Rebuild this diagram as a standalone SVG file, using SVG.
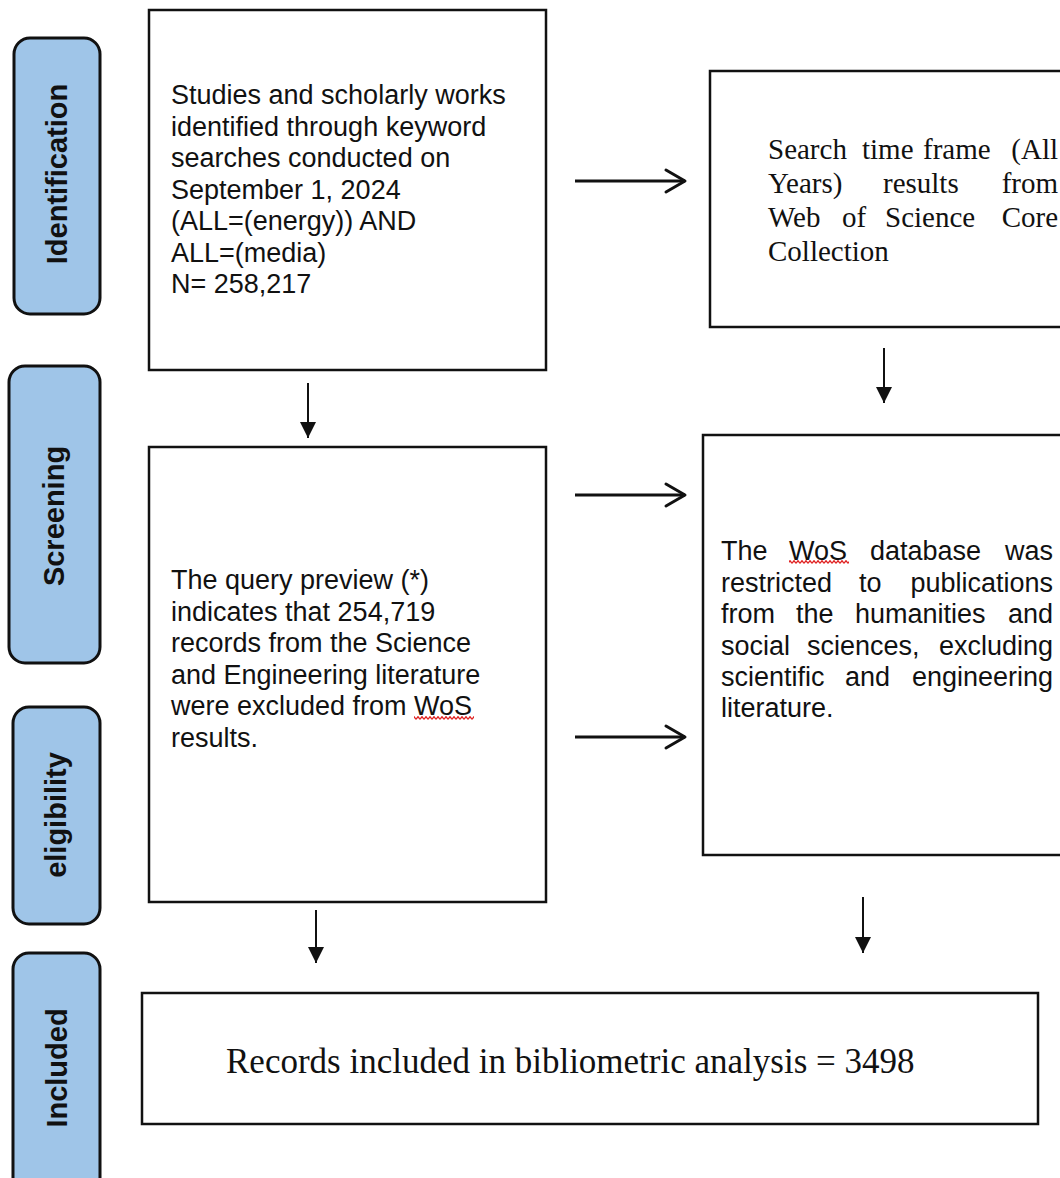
<svg xmlns="http://www.w3.org/2000/svg" width="1060" height="1178" viewBox="0 0 1060 1178">
<defs>
<style>
.phase{fill:#9fc5e8;stroke:#111;stroke-width:3}
.box{fill:#fff;stroke:#111;stroke-width:2.5}
.plabel{font-family:"Liberation Sans",Arial,sans-serif;font-weight:bold;font-size:29px;fill:#111;text-anchor:middle}
.sans{font-family:"Liberation Sans",Arial,sans-serif;font-size:27px;fill:#111}
.serif{font-family:"Liberation Serif","Times New Roman",serif;font-size:29px;fill:#111}
.serifL{font-family:"Liberation Serif","Times New Roman",serif;font-size:35px;fill:#111}
.end{text-anchor:end}
.h{stroke:#111;stroke-width:3;fill:none}
.v{stroke:#111;stroke-width:2;fill:none}
</style>
<marker id="chev" markerUnits="userSpaceOnUse" viewBox="-22 -14 26 28" markerWidth="26" markerHeight="28" refX="0" refY="0" orient="auto">
<path d="M-19,-11 L0,0 L-19,11" fill="none" stroke="#111" stroke-width="3" stroke-linejoin="round" stroke-linecap="round"/>
</marker>
<marker id="tri" markerUnits="userSpaceOnUse" viewBox="-17 -9 18 18" markerWidth="18" markerHeight="18" refX="0" refY="0" orient="auto">
<path d="M-16,-8 L0,0 L-16,8 Z" fill="#111"/>
</marker>
<pattern id="sq" patternUnits="userSpaceOnUse" width="4" height="4">
<path d="M0,3.3 L2,0.7 L4,3.3" fill="none" stroke="#e02020" stroke-width="1.3"/>
</pattern>
</defs>
<rect width="1060" height="1178" fill="#fff"/>

<g id="phase-identification">
<rect class="phase" x="14" y="38" width="86" height="276" rx="16"/>
<text class="plabel" transform="translate(67,174) rotate(-90)">Identification</text>
</g>
<g id="phase-screening">
<rect class="phase" x="9" y="366" width="91" height="297" rx="16"/>
<text class="plabel" transform="translate(64,516) rotate(-90)">Screening</text>
</g>
<g id="phase-eligibility">
<rect class="phase" x="13" y="707" width="87" height="217" rx="16"/>
<text class="plabel" transform="translate(66,815) rotate(-90)">eligibility</text>
</g>
<g id="phase-included">
<rect class="phase" x="13" y="953" width="87" height="250" rx="16"/>
<text class="plabel" transform="translate(67,1068) rotate(-90)">Included</text>
</g>

<g id="box-identified">
<rect class="box" x="149" y="10" width="397" height="360"/>
<text class="sans">
<tspan x="171" y="104">Studies and scholarly works</tspan>
<tspan x="171" y="135.5">identified through keyword</tspan>
<tspan x="171" y="167">searches conducted on</tspan>
<tspan x="171" y="198.5">September 1, 2024</tspan>
<tspan x="171" y="230">(ALL=(energy)) AND</tspan>
<tspan x="171" y="261.5">ALL=(media)</tspan>
<tspan x="171" y="293">N= 258,217</tspan>
</text>
</g>

<g id="box-timeframe">
<rect class="box" x="710" y="71" width="370" height="256"/>
<text class="serif" x="768" y="159">Search</text>
<text class="serif" x="862" y="159">time</text>
<text class="serif" x="923" y="159">frame</text>
<text class="serif end" x="1058" y="159">(All</text>
<text class="serif" x="768" y="193">Years)</text>
<text class="serif" x="883" y="193">results</text>
<text class="serif end" x="1058" y="193">from</text>
<text class="serif" x="768" y="227">Web</text>
<text class="serif" x="842" y="227">of</text>
<text class="serif" x="885" y="227">Science</text>
<text class="serif end" x="1058" y="227">Core</text>
<text class="serif" x="768" y="261">Collection</text>
</g>

<g id="box-query">
<rect class="box" x="149" y="447" width="397" height="455"/>
<text class="sans">
<tspan x="171" y="589">The query preview (*)</tspan>
<tspan x="171" y="620.5">indicates that 254,719</tspan>
<tspan x="171" y="652">records from the Science</tspan>
<tspan x="171" y="683.5">and Engineering literature</tspan>
<tspan x="171" y="715">were excluded from WoS</tspan>
<tspan x="171" y="746.5">results.</tspan>
</text>
<rect x="414" y="716" width="60" height="4" fill="url(#sq)"/>
</g>

<g id="box-restricted">
<rect class="box" x="703" y="435" width="380" height="420"/>
<text class="sans" x="721" y="560">The</text>
<text class="sans" x="789" y="560">WoS</text>
<text class="sans" x="870" y="560">database</text>
<text class="sans end" x="1053" y="560">was</text>
<text class="sans" x="721" y="591.5">restricted</text>
<text class="sans" x="859" y="591.5">to</text>
<text class="sans end" x="1053" y="591.5">publications</text>
<text class="sans" x="721" y="623">from</text>
<text class="sans" x="796" y="623">the</text>
<text class="sans" x="855" y="623">humanities</text>
<text class="sans end" x="1053" y="623">and</text>
<text class="sans" x="721" y="654.5">social</text>
<text class="sans" x="807" y="654.5">sciences,</text>
<text class="sans end" x="1053" y="654.5">excluding</text>
<text class="sans" x="721" y="686">scientific</text>
<text class="sans" x="845" y="686">and</text>
<text class="sans end" x="1053" y="686">engineering</text>
<text class="sans" x="721" y="717">literature.</text>
<rect x="789" y="560" width="60" height="4" fill="url(#sq)"/>
</g>

<g id="box-included">
<rect class="box" x="142" y="993" width="896" height="131"/>
<text class="serifL" x="226" y="1073">Records included in bibliometric analysis = 3498</text>
</g>

<g id="connectors">
<line class="h" x1="575" y1="181" x2="685" y2="181" marker-end="url(#chev)"/>
<line class="h" x1="575" y1="495" x2="685" y2="495" marker-end="url(#chev)"/>
<line class="h" x1="575" y1="737" x2="685" y2="737" marker-end="url(#chev)"/>
<line class="v" x1="308" y1="383" x2="308" y2="438" marker-end="url(#tri)"/>
<line class="v" x1="884" y1="348" x2="884" y2="403" marker-end="url(#tri)"/>
<line class="v" x1="316" y1="910" x2="316" y2="963" marker-end="url(#tri)"/>
<line class="v" x1="863" y1="897" x2="863" y2="953" marker-end="url(#tri)"/>
</g>
</svg>
